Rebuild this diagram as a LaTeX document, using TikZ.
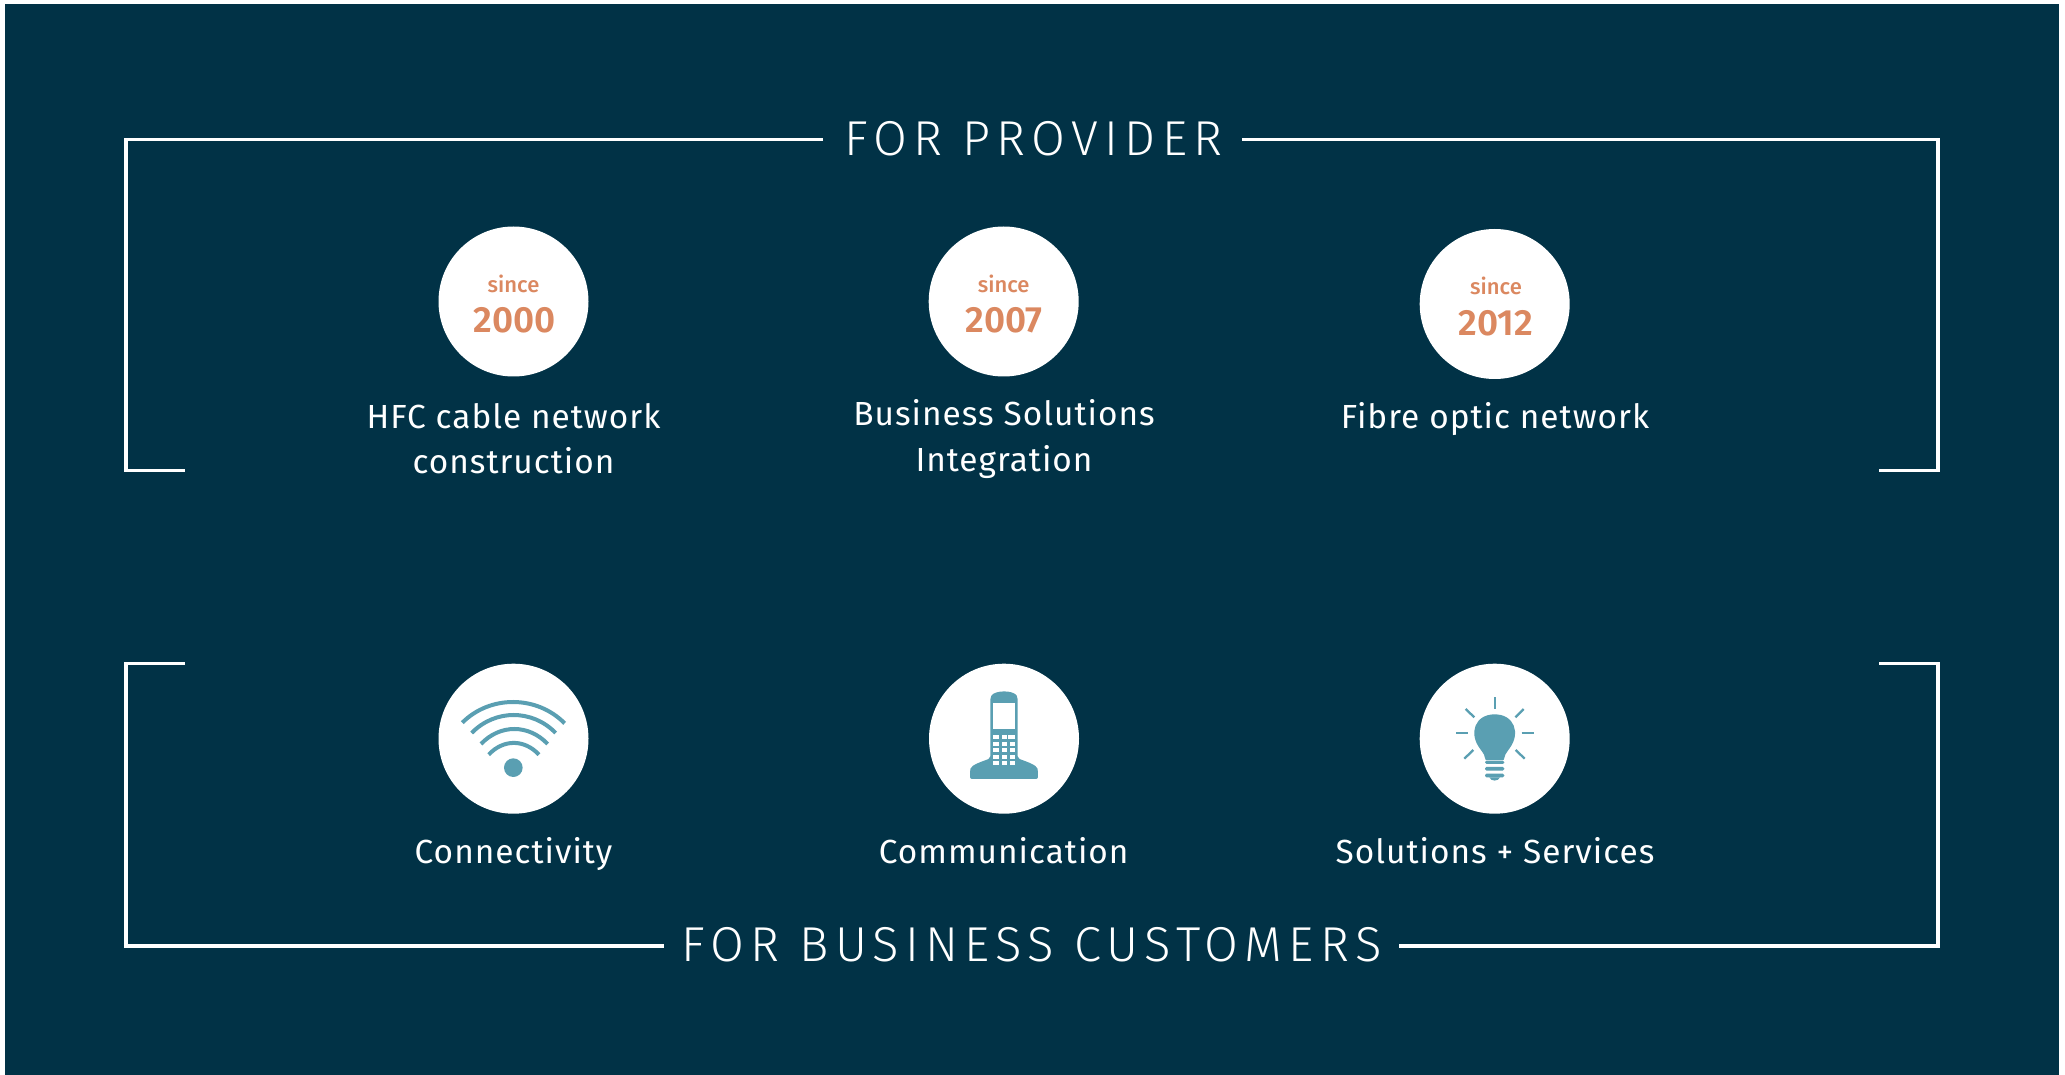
\documentclass[tikz,border=0pt]{standalone}
\usepackage{fontspec}
\setmainfont{Fira Sans}
\newfontfamily\headfont[LetterSpace=12.8]{Fira Sans Light}
\newfontfamily\sincefont{Fira Sans Medium}
\newfontfamily\yearfont{Fira Sans SemiBold}
\definecolor{bgblue}{RGB}{1,50,70}
\definecolor{accent}{RGB}{219,136,96}
\definecolor{iconblue}{RGB}{90,159,178}
\tikzset{
 x=1pt,y=-1pt,
 frameline/.style={draw=white,line width=3.6pt,line cap=butt,line join=miter},
 disc/.style={circle,fill=white,minimum size=150pt,inner sep=0pt},
 heading/.style={text=white,anchor=base,inner sep=0pt,font=\fontsize{49}{49}\selectfont\headfont},
 caption/.style={text=white,anchor=base,inner sep=0pt,font=\fontsize{33.4}{33.4}\selectfont\addfontfeature{LetterSpace=3}},
 sincesmall/.style={text=accent,anchor=base,inner sep=0pt,font=\fontsize{22}{22}\selectfont\sincefont},
 sinceyear/.style={text=accent,anchor=base,inner sep=0pt,font=\fontsize{36.5}{36.5}\selectfont\yearfont},
 ray/.style={draw=iconblue,line width=2.3pt},
 wave/.style={draw=iconblue,line width=4pt},
 key/.style={fill=white}
}
\begin{document}
\begin{tikzpicture}
\useasboundingbox (0,0) rectangle (2065,1075);
\fill[white] (0,0) rectangle (2065,1075);
\fill[bgblue] (5,4) rectangle (2059,1075);
% headings
\node[heading] (hprov) at (1033.5,156) {FOR PROVIDER};
\node[heading] (hbus) at (1031.5,961.5) {FOR BUSINESS CUSTOMERS};
% brackets
\coordinate (a1) at (823,139.5);
\coordinate (a2) at (126,139.5);
\coordinate (a3) at (126,470.5);
\coordinate (a4) at (185,470.5);
\draw[frameline] (a1) -- (a2) -- (a3) -- (a4);
\coordinate (b1) at (1242,139.5);
\coordinate (b2) at (1938,139.5);
\coordinate (b3) at (1938,470.5);
\coordinate (b4) at (1879,470.5);
\draw[frameline] (b1) -- (b2) -- (b3) -- (b4);
\coordinate (c1) at (185,663.5);
\coordinate (c2) at (126,663.5);
\coordinate (c3) at (126,946);
\coordinate (c4) at (664,946);
\draw[frameline] (c1) -- (c2) -- (c3) -- (c4);
\coordinate (d1) at (1879,663.5);
\coordinate (d2) at (1938,663.5);
\coordinate (d3) at (1938,946);
\coordinate (d4) at (1399,946);
\draw[frameline] (d1) -- (d2) -- (d3) -- (d4);
% discs
\node[disc] (p1) at (513.5,301.5) {};
\node[disc] (p2) at (1003.7,301.5) {};
\node[disc] (p3) at (1494.7,304) {};
\node[disc] (q1) at (513.5,738.7) {};
\node[disc] (q2) at (1004,738.7) {};
\node[disc] (q3) at (1494.7,738.7) {};
% since labels
\node[sincesmall] (s1) at (513.5,292.5) {since};
\node[sinceyear] (y1) at (514.5,333) {2000};
\node[sincesmall] (s2) at (1003.7,292.5) {since};
\node[sinceyear] (y2) at (1004,333) {2007};
\node[sincesmall] (s3) at (1496,295) {since};
\node[sinceyear] (y3) at (1496,336) {2012};
% captions
\node[caption] (t1) at (513.5,428) {HFC cable network};
\node[caption] (t1b) at (513.5,473) {construction};
\node[caption] (t2) at (1004,425) {Business Solutions};
\node[caption] (t2b) at (1004,471) {Integration};
\node[caption] (t3) at (1495,428) {Fibre optic network};
\node[caption] (t4) at (513.5,863) {Connectivity};
\node[caption] (t5) at (1003.7,863) {Communication};
\node[caption] (t6) at (1495,863) {Solutions + Services};
% wifi icon
\begin{scope}[shift={(420,650)},x=0.3333pt,y=-0.3333pt]
\fill[iconblue] (280,353) circle[radius=28];
\draw[wave] (127,218) .. controls (210,135) and (350,135) .. (434,220);
\draw[wave] (155,249) .. controls (225,177) and (337,177) .. (407,249);
\draw[wave] (183,282) .. controls (240,222) and (326,222) .. (383,282);
\draw[wave] (206,314) .. controls (250,267) and (313,267) .. (357,314);
\end{scope}
% phone icon
\begin{scope}[shift={(910,650)},x=0.3333pt,y=-0.3333pt]
\fill[iconblue,rounded corners=2pt] (180,387) -- (180,362) .. controls (184,345) and (215,335) .. (241,325) -- (241,142) .. controls (255,120) and (310,120) .. (323,142) -- (323,325) .. controls (350,335) and (380,345) .. (384,362) -- (384,387) -- cycle;
\fill[key] (250,158) rectangle (314,238);
\foreach \ya/\yb in {256/267,276/288,295/307,315/326,333/345}{
 \fill[key] (250,\ya) rectangle (268,\yb);
 \fill[key] (276,\ya) rectangle (290,\yb);
 \fill[key] (300,\ya) rectangle (315,\yb);
}
\fill[key] (294,256) rectangle (315,267);
\end{scope}
% bulb icon
\begin{scope}[shift={(1400,650)},x=0.3333pt,y=-0.3333pt]
\fill[iconblue] (240,296) .. controls (205,250) and (225,193) .. (284,193) .. controls (343,193) and (363,250) .. (328,296) .. controls (318,310) and (312,318) .. (311,330) -- (257,330) .. controls (256,318) and (250,310) .. (240,296) -- cycle;
\fill[iconblue,rounded corners=1.5pt] (255,332) rectangle (313,342);
\fill[iconblue,rounded corners=1.5pt] (255,351) rectangle (313,362);
\fill[iconblue,rounded corners=1.5pt] (255,371) rectangle (313,382);
\fill[iconblue] (268,382) .. controls (272,395) and (296,395) .. (300,382) -- cycle;
\draw[ray] (284,142) -- (284,177);
\draw[ray] (197,177) -- (223,202);
\draw[ray] (371,177) -- (346,202);
\draw[ray] (168,250) -- (204,250);
\draw[ray] (365,250) -- (401,250);
\draw[ray] (220,300) -- (193,326);
\draw[ray] (347,300) -- (374,326);
\end{scope}
\end{tikzpicture}
\end{document}
